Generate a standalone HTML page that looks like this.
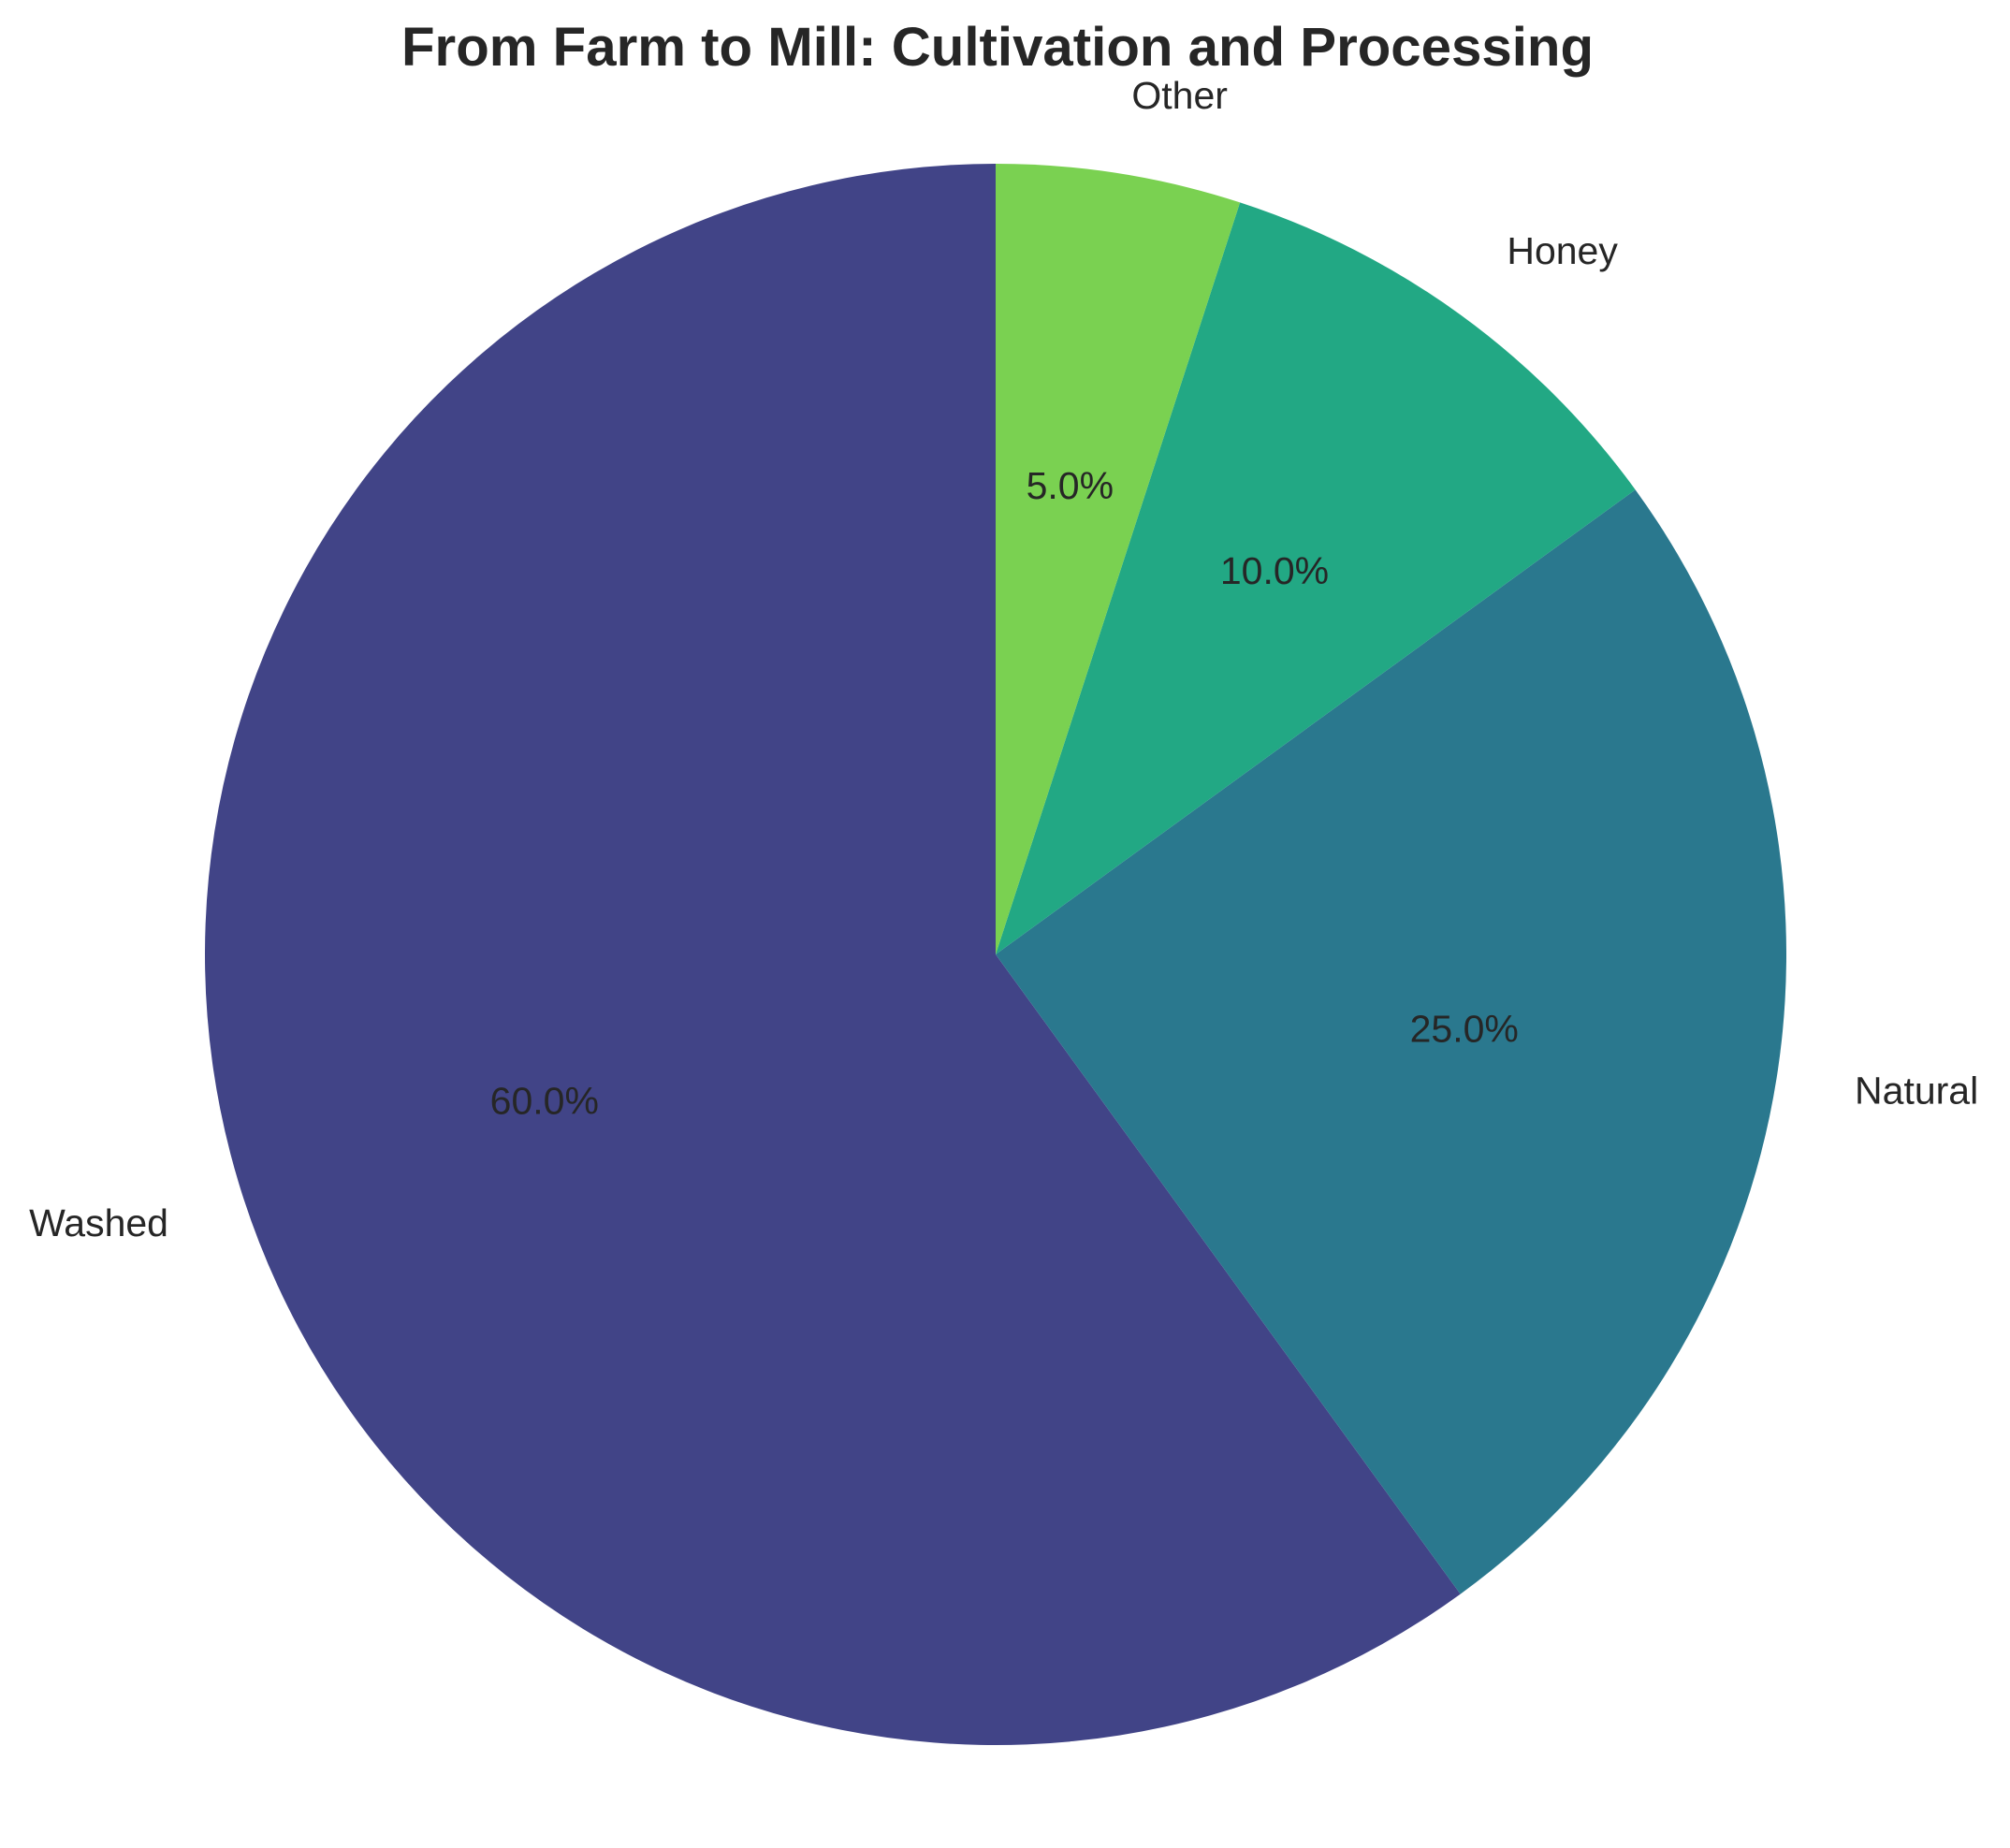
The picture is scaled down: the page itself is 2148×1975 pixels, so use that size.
<!DOCTYPE html>
<html><head><meta charset="utf-8"><style>
html,body{margin:0;padding:0;background:#fff;}
svg{display:block;}
text{font-family:"Liberation Sans",sans-serif;fill:#262626;}
</style></head><body>
<svg id="chart" width="2148" height="1975" viewBox="0 0 2148 1975" xmlns="http://www.w3.org/2000/svg">
<rect width="2148" height="1975" fill="#fff"/>
<text x="1066" y="70" text-anchor="middle" font-size="58" font-weight="bold" textLength="1274" lengthAdjust="spacingAndGlyphs">From Farm to Mill: Cultivation and Processing</text>
<g id="slices"></g>
<g id="labels"></g>
</svg>
<script>
const categories = ["Washed", "Natural", "Honey", "Other"];
const values = [60, 25, 10, 5];
const colors = ["#414487", "#2a788e", "#22a884", "#7ad151"];
const cx = 1064, cy = 1020, r = 845;
const NS = "http://www.w3.org/2000/svg";
const slices = document.getElementById("slices");
const labels = document.getElementById("labels");
const total = values.reduce((a,b)=>a+b,0);
let ang = 90;
function pt(a, d){ const t=a*Math.PI/180; return [cx + d*Math.cos(t), cy - d*Math.sin(t)]; }
values.forEach((v,i)=>{
  const sweep = v/total*360;
  const a0 = ang, a1 = ang + sweep;
  const p0 = pt(a0, r), p1 = pt(a1, r);
  const large = sweep > 180 ? 1 : 0;
  const path = document.createElementNS(NS, "path");
  path.setAttribute("d", `M${cx},${cy} L${p0[0]},${p0[1]} A${r},${r} 0 ${large} 0 ${p1[0]},${p1[1]} Z`);
  path.setAttribute("fill", colors[i]);
  
  
  slices.appendChild(path);
  const mid = (a0 + a1)/2;
  const lp = pt(mid, r*1.1);
  const lt = document.createElementNS(NS, "text");
  lt.setAttribute("x", lp[0]); lt.setAttribute("y", lp[1]);
  lt.setAttribute("font-size", "41");
  lt.setAttribute("dominant-baseline", "central");
  lt.setAttribute("text-anchor", lp[0] >= cx ? "start" : "end");
  lt.textContent = categories[i];
  
  
  labels.appendChild(lt);
  const pp = pt(mid, r*0.6);
  const pc = document.createElementNS(NS, "text");
  pc.setAttribute("x", pp[0]); pc.setAttribute("y", pp[1]);
  pc.setAttribute("font-size", "41");
  pc.setAttribute("dominant-baseline", "central");
  pc.setAttribute("text-anchor", "middle");
  pc.textContent = (v/total*100).toFixed(1) + "%";
  
  
  labels.appendChild(pc);
  ang = a1;
});
</script>
</body></html>
